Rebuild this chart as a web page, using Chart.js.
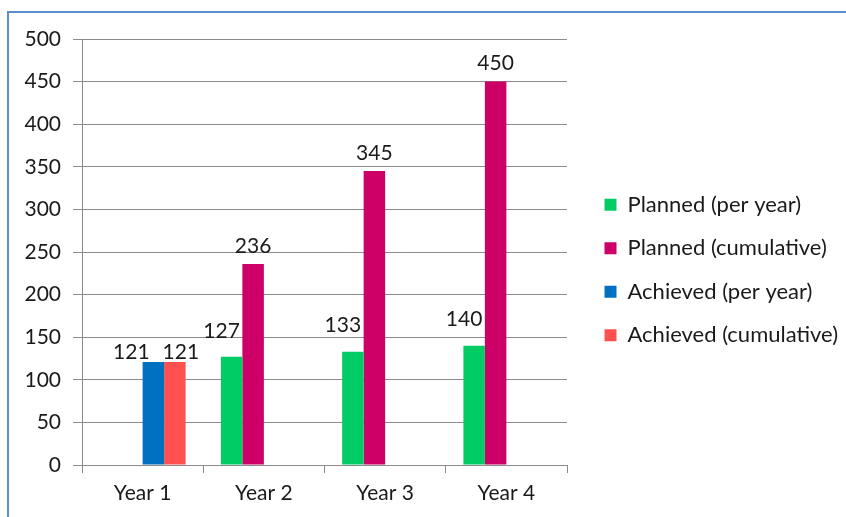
<!DOCTYPE html>
<html>
<head>
<meta charset="utf-8">
<script src="https://cdn.jsdelivr.net/npm/chart.js@4"></script>
<style>
  html, body { margin: 0; padding: 0; background: #fff; overflow: hidden; }
  #frame {
    position: absolute; left: 7px; top: 11px; width: 900px; height: 600px;
    border-top: 2px solid #5b8dd0; border-left: 2px solid #5b8dd0;
  }
  #wrap { position: absolute; left: 0; top: 0; width: 846px; height: 517px; }
</style>
</head>
<body>
<div id="frame"></div>
<div id="wrap"><canvas id="chart"></canvas></div>
<script>
  // Values.
  const categories = ["Year 1", "Year 2", "Year 3", "Year 4"];
  const plannedPerYear = [null, 127, 133, 140];
  const plannedCumulative = [null, 236, 345, 450];
  const achievedPerYear = [121, null, null, null];
  const achievedCumulative = [121, null, null, null];
  const seriesNames = [
    "Planned (per year)",
    "Planned (cumulative)",
    "Achieved (per year)",
    "Achieved (cumulative)",
  ];
  const seriesColors = ["#00cc66", "#cc0066", "#0070c0", "#ff5050"];

  const FONT = "Lato, 'Open Sans', sans-serif";
  const TEXT = "#1a1a1a";
  const GRID = "#8c8c8c";

  Chart.defaults.font.family = FONT;
  Chart.defaults.font.size = 21;
  Chart.defaults.color = TEXT;

  // Value labels above each bar (nudged per series like the original sheet).
  const labelNudge = [
    { dx: -10, dy: -26 },
    { dx: 0, dy: -18 },
    { dx: -22, dy: -10 },
    { dx: 6, dy: -10 },
  ];
  const valueLabels = {
    id: "valueLabels",
    afterDatasetsDraw(chart) {
      const ctx = chart.ctx;
      ctx.save();
      ctx.font = "21px " + FONT;
      ctx.fillStyle = TEXT;
      ctx.textAlign = "center";
      ctx.textBaseline = "middle";
      chart.data.datasets.forEach((ds, i) => {
        const meta = chart.getDatasetMeta(i);
        meta.data.forEach((bar, j) => {
          const v = ds.data[j];
          if (v == null) return;
          ctx.fillText(String(v), bar.x + labelNudge[i].dx, bar.y + labelNudge[i].dy);
        });
      });
      ctx.restore();
    },
  };

  // Fix the legend column width and move it to where the original sits.
  const legendPlace = {
    id: "legendPlace",
    beforeInit(chart) {
      const fit = chart.legend.fit;
      chart.legend.fit = function () {
        fit.call(this);
        this.width = 279;
      };
    },
    afterLayout(chart) {
      const lg = chart.legend;
      lg.left += 16; lg.right += 16;
      lg.top -= 8; lg.bottom -= 8;
    },
  };

  new Chart(document.getElementById("chart"), {
    type: "bar",
    data: {
      labels: categories,
      datasets: [plannedPerYear, plannedCumulative, achievedPerYear, achievedCumulative].map((d, i) => ({
        label: seriesNames[i],
        data: d,
        backgroundColor: seriesColors[i],
        borderWidth: 0,
        categoryPercentage: 0.709,
        barPercentage: 1,
      })),
    },
    options: {
      responsive: true,
      maintainAspectRatio: false,
      animation: false,
      layout: { padding: { top: 39, right: 0, bottom: 0, left: 0 } },
      scales: {
        x: {
          grid: { drawOnChartArea: false, drawTicks: true, tickLength: 8, color: GRID, offset: true },
          border: { display: true, color: GRID, width: 1 },
          ticks: { padding: 8, color: TEXT, font: { size: 21 } },
          afterFit(scale) { scale.height = 52; },
        },
        y: {
          min: 0,
          max: 500,
          ticks: { stepSize: 50, padding: 12, color: TEXT, font: { size: 21 } },
          grid: { color: GRID, tickLength: 9, drawTicks: true },
          border: { display: true, color: GRID, width: 1 },
          afterFit(scale) { scale.width = 82; },
        },
      },
      plugins: {
        legend: {
          position: "right",
          labels: {
            boxWidth: 12,
            boxHeight: 12,
            padding: 21.5,
            color: TEXT,
            font: { size: 22 },
          },
        },
        tooltip: { enabled: false },
      },
    },
    plugins: [valueLabels, legendPlace],
  });
</script>
</body>
</html>
